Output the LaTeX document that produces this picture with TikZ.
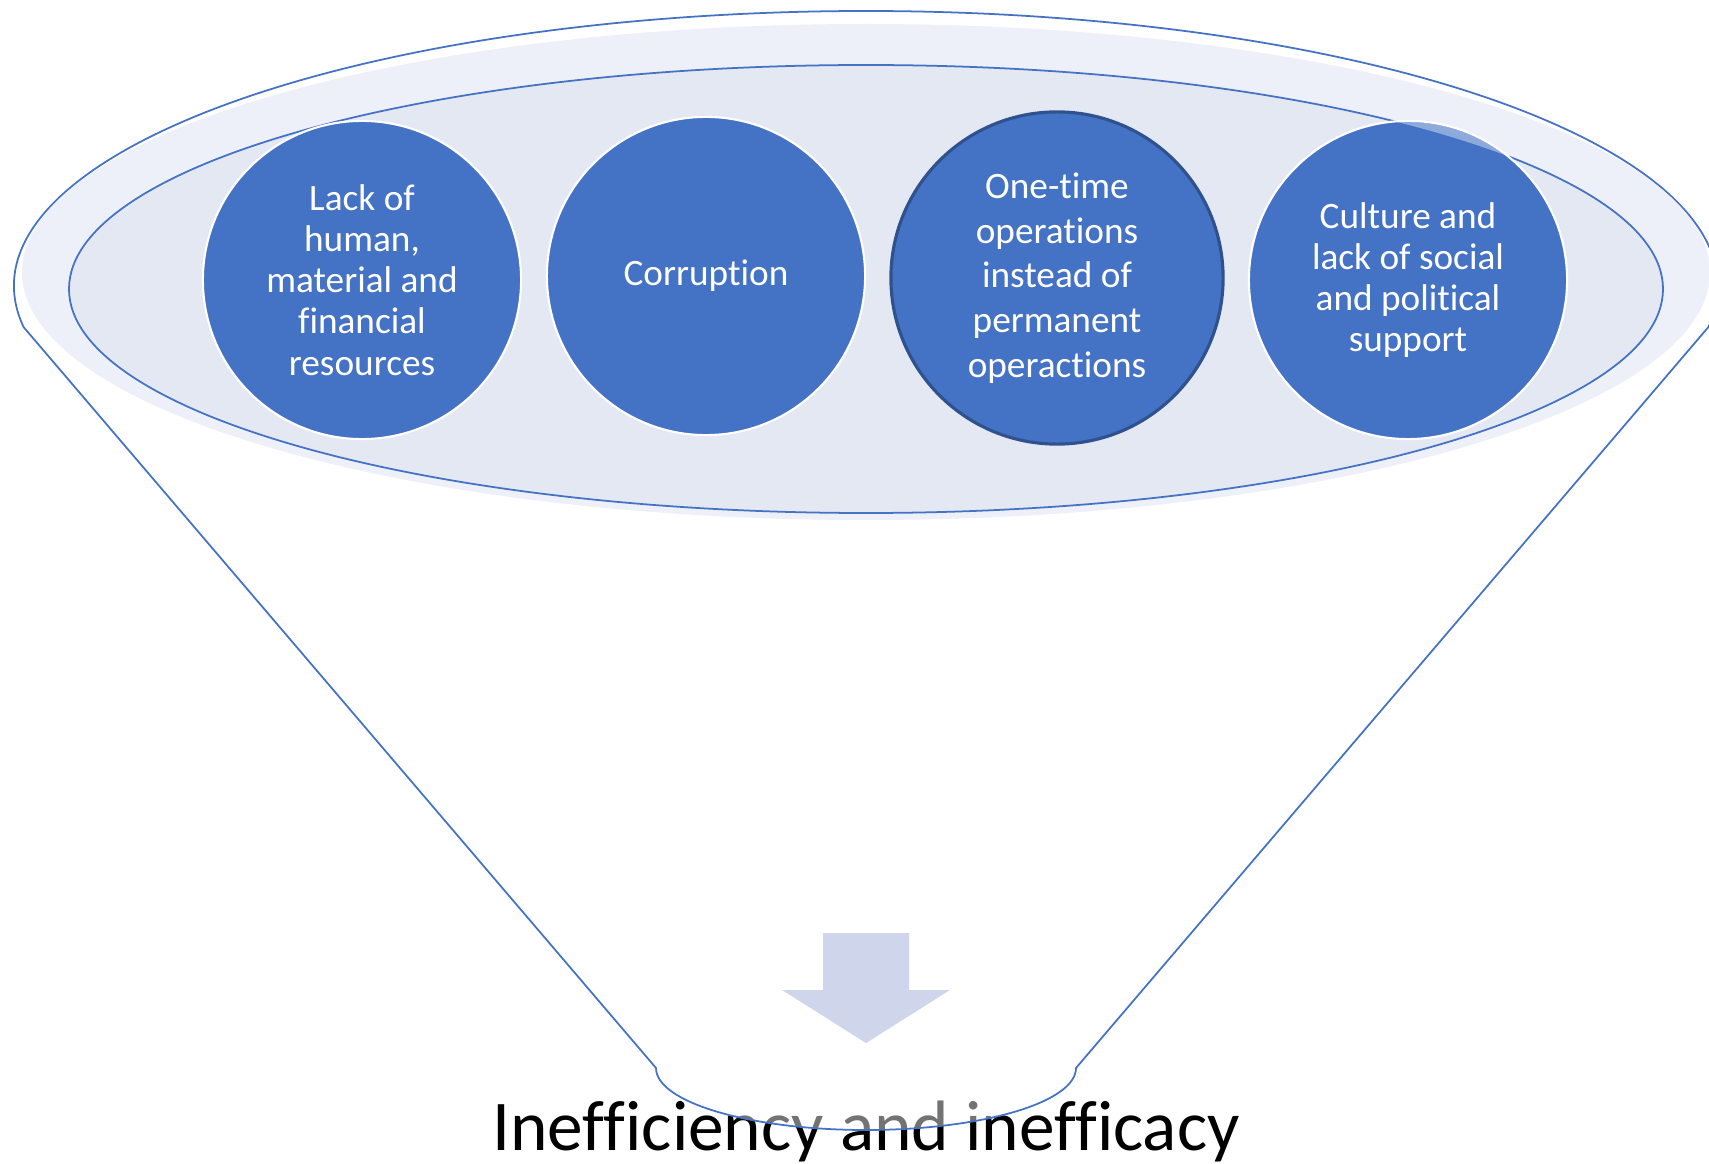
\documentclass[tikz,border=0pt]{standalone}
\usepackage{fontspec}
\setmainfont{Carlito}[Ligatures=NoCommon]

\definecolor{funnelblue}{HTML}{4472C4}
\definecolor{rimlight}{HTML}{EDF0F8}
\definecolor{rimdark}{HTML}{E4E8F3}
\definecolor{arrowfill}{HTML}{CFD5EA}
\definecolor{darkrim}{HTML}{2F528F}

\tikzset{cause/.style={circle, fill=funnelblue, draw=white, line width=0.6pt, minimum size=3.18cm, inner sep=0pt, align=center, text=white, font=\fontsize{10.6}{11.7}\selectfont}}

\begin{document}
\begin{tikzpicture}[x=0.01cm, y=-0.01cm]
                \useasboundingbox (0,0) rectangle (1709,1164);

                \node[anchor=base, font=\fontsize{20.3}{24}\selectfont] (result) at (866,1150) {Inefficiency and inefficacy};

                \draw[funnelblue, line width=0.5pt, fill=white, fill opacity=0.45] (23.6,327.1) arc[start angle=171.4, end angle=368.6, x radius=852, y radius=275] -- (1076,1068) arc[start angle=0, end angle=180, x radius=210, y radius=62] -- cycle;

                \fill[rimlight] (866,272) ellipse [x radius=844, y radius=248];
                \draw[funnelblue, line width=0.5pt, fill=rimdark] (866,289) ellipse [x radius=797, y radius=224];

                \node[cause] (lack) at (362,280) {Lack of\\human,\\material and\\financial\\resources};
                \node[cause] (corrupt) at (706,276) {Corruption};
                \node[cause, draw=darkrim, line width=0.9pt, minimum size=3.32cm, font=\fontsize{10.6}{12.7}\selectfont] (onetime) at (1057,278) {One-time\\operations\\instead of\\permanent\\operactions};
                \node[cause] (culture) at (1408,280) {Culture and\\lack of social\\and political\\support};

                \begin{scope}
                    \clip (culture.center) circle [radius=158];
                    \fill[white, fill opacity=0.4, even odd rule] (0,0) rectangle (1709,1164) (866,289) ellipse [x radius=797, y radius=224];
                \end{scope}

                \fill[arrowfill] (823,933) -- (909,933) -- (909,990) -- (950,990) -- (866,1043) -- (782,990) -- (823,990) -- cycle;
            \end{tikzpicture}
\end{document}
